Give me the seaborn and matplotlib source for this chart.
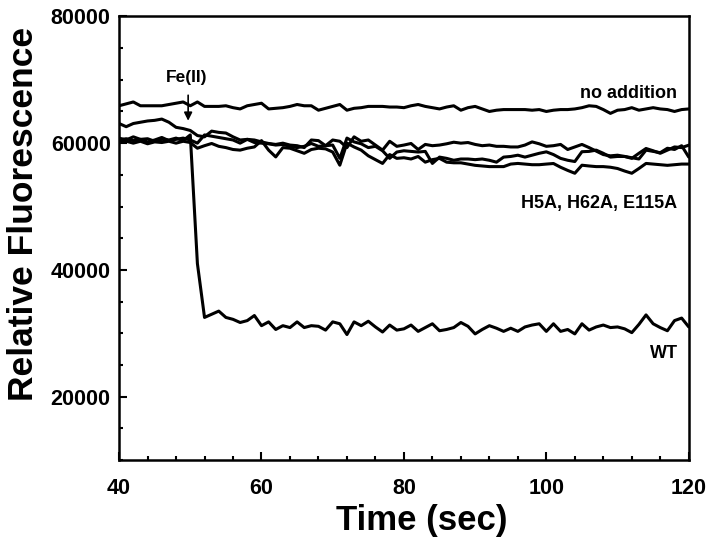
import numpy as np
import pandas as pd
import matplotlib
matplotlib.use("Agg")
import matplotlib.pyplot as plt
from matplotlib.ticker import MultipleLocator
import seaborn as sns

# time axis, 1 s per reading
time_sec = list(range(40, 121))

no_addition = [
    65900, 66200, 66500, 65900, 65900, 65900, 65900, 66100, 66300, 66500,
    65900, 66500, 65800, 65800, 65800, 65900, 65600, 65400, 65900, 66100,
    66300, 65400, 65500, 65600, 65800, 66100, 65900, 65900, 65200, 65500,
    65800, 66100, 65200, 65500, 65600, 65800, 65800, 65800, 65700, 65700,
    65600, 65900, 66100, 65800, 65600, 65400, 65700, 65900, 65200, 65600,
    65800, 65400, 65000, 65200, 65300, 65300, 65300, 65300, 65200, 65300,
    65000, 65200, 65300, 65300, 65400, 65600, 65900, 65800, 65300, 64700,
    65200, 65300, 65600, 65200, 65400, 65600, 65400, 65300, 65000, 65300,
    65400,
]

mutant_1 = [
    63100, 62600, 63100, 63300, 63500, 63600, 63800, 63300, 62500, 62300,
    62000, 61200, 61000, 61900, 61700, 61600, 61000, 60500, 60600, 60500,
    60200, 59950, 59800, 60000, 59700, 59600, 59300, 60500, 60400, 59600,
    60500, 60300, 59300, 61000, 60300, 60500, 59700, 58900, 60300, 59500,
    59700, 59950, 59000, 59800, 59600, 59700, 59900, 60150, 60000, 60100,
    59800, 59600, 59700, 59500, 59500, 59400, 59400, 59700, 60200, 59900,
    59500, 59600, 59800, 59000, 59400, 59800, 59300, 58750, 58200, 58000,
    58100, 57900, 57600, 58400, 59160, 58800, 58400, 58900, 59400, 59300,
    59680,
]

mutant_2 = [
    60500, 60700, 60400, 60600, 60200, 60500, 60900, 60400, 60600, 60800,
    60500, 60000, 61300, 61100, 60900, 60700, 60500, 60000, 60600, 60100,
    60000, 59900, 59700, 59800, 59500, 59300, 59500, 59950, 59500, 59600,
    59700, 57600, 60800, 60200, 59900, 59300, 59500, 58800, 57600, 58600,
    58800, 58700, 58600, 58700, 56800, 57800, 57600, 57300, 57500, 57500,
    57400, 57500, 57300, 57000, 57800, 57900, 58100, 57800, 58100, 58400,
    58630, 58200, 57600, 57300, 57100, 58650, 58700, 58900, 58400, 57800,
    57900, 57900, 57700, 57500, 58900, 58700, 58500, 59200, 59000, 59600,
    57800,
]

mutant_3 = [
    60200, 60300, 60000, 60300, 59900, 60200, 60100, 60300, 60000, 60300,
    60100, 59200, 59600, 59950, 59500, 59300, 59000, 58900, 59200, 59400,
    60400, 58900, 57830, 59300, 59200, 58800, 58400, 59000, 59200, 59100,
    58600, 56520, 60000, 59400, 58900, 58000, 57400, 56800, 58200, 57600,
    57700, 57500, 57900, 57000, 57400, 57600, 57000, 56900, 56900, 56700,
    56500, 56400, 56300, 56300, 56300, 56700, 56800, 56700, 56600, 56600,
    56700, 56790, 56200, 55700, 55250, 56520, 56400, 56300, 56300, 56200,
    56000, 55600, 55250, 56000, 56800, 56700, 56600, 56500, 56600, 56700,
    56700,
]

wild_type = [
    60800, 60500, 61000, 60600, 60700, 60300, 60600, 60500, 60800, 60400,
    61300, 41000, 32500, 33000, 33500, 32500, 32200, 31700, 32000, 32800,
    31200, 31800, 30600, 31200, 30900, 31800, 30900, 31200, 31100, 30500,
    31800, 31500, 29800, 31800, 31200, 31900, 31000, 30200, 31300, 30500,
    30700, 31300, 30300, 30900, 31500, 30400, 30600, 30900, 31700, 31100,
    29900, 30600, 31200, 30800, 30300, 30800, 30300, 31000, 31300, 31500,
    30300, 31500, 30300, 30600, 29900, 31500, 30500, 31000, 31300, 30900,
    31000, 30700, 30100, 31400, 32900, 31500, 30900, 30400, 32000, 32400,
    31000,
]

series = {
    "no addition": no_addition,
    "mutant 1": mutant_1,
    "mutant 2": mutant_2,
    "mutant 3": mutant_3,
    "WT": wild_type,
}

df = pd.concat(
    [pd.DataFrame({"time": time_sec, "fluor": v, "trace": k}) for k, v in series.items()],
    ignore_index=True,
)

sns.set_style("ticks", {"axes.edgecolor": "black", "text.color": "black",
                        "xtick.color": "black", "ytick.color": "black",
                        "axes.labelcolor": "black"})
plt.rcParams["font.family"] = ["Liberation Sans", "DejaVu Sans"]
plt.rcParams["font.weight"] = "bold"

fig = plt.figure(figsize=(7.13, 5.47), dpi=100)
ax = fig.add_axes([0.167, 0.159, 0.799, 0.811])

sns.lineplot(data=df, x="time", y="fluor", units="trace", estimator=None,
             color="black", linewidth=2.2, ax=ax, legend=False)

ax.set_xlim(40, 120)
ax.set_ylim(10000, 80000)
ax.xaxis.set_major_locator(MultipleLocator(20))
ax.xaxis.set_minor_locator(MultipleLocator(4))
ax.yaxis.set_major_locator(MultipleLocator(20000))
ax.yaxis.set_minor_locator(MultipleLocator(5000))
ax.tick_params(which="both", direction="in", top=False, right=False,
               width=1.5, labelsize=15.5, colors="black")
ax.tick_params(axis="x", which="major", pad=13)
ax.tick_params(axis="y", which="major", pad=6)
ax.tick_params(which="major", length=6)
ax.tick_params(which="minor", length=3)
for lbl in ax.get_xticklabels() + ax.get_yticklabels():
    lbl.set_fontweight("bold")
for s in ax.spines.values():
    s.set_linewidth(1.8)
    s.set_color("black")
    s.set_visible(True)

ax.set_xlabel("Time (sec)", fontsize=25, fontweight="bold", color="black")
ax.set_ylabel("Relative Fluorescence", fontsize=25.5, fontweight="bold", color="black")
ax.xaxis.set_label_coords(0.532, -0.098)
ax.yaxis.set_label_coords(-0.138, 0.555)

# trace labels
ax.text(118.3, 67900, "no addition", ha="right", va="center", fontsize=13, fontweight="bold")
ax.text(118.4, 50500, "H5A, H62A, E115A", ha="right", va="center", fontsize=13, fontweight="bold")
ax.text(118.5, 26800, "WT", ha="right", va="center", fontsize=13, fontweight="bold")
ax.text(49.5, 70400, "Fe(II)", ha="center", va="center", fontsize=12.5, fontweight="bold")
ax.annotate("", xy=(49.7, 63100), xytext=(49.7, 68000),
            arrowprops=dict(arrowstyle="-|>", color="black", lw=1.2, mutation_scale=12))

fig.savefig("out.png", dpi=100)
